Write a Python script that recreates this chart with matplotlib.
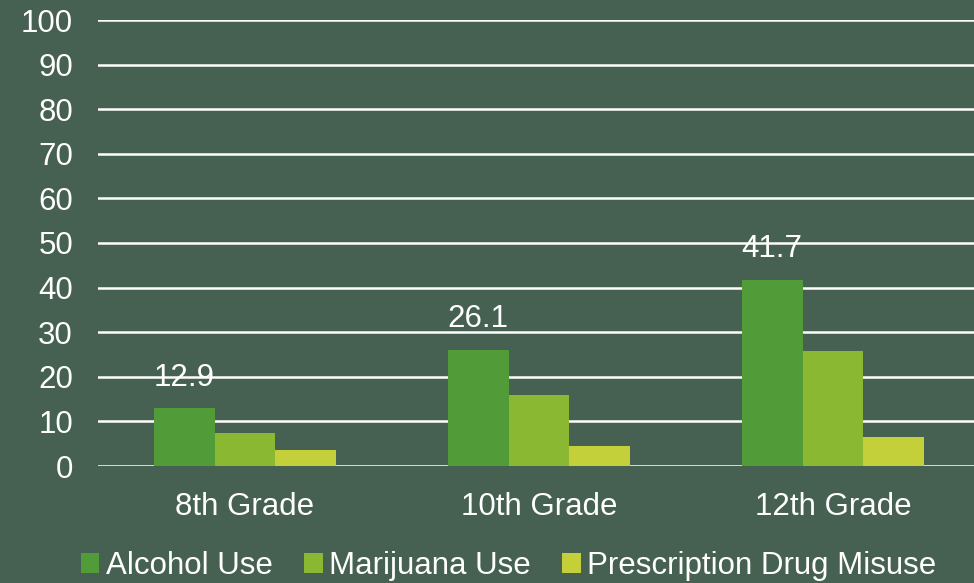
import matplotlib
matplotlib.use("Agg")
import matplotlib.pyplot as plt
import numpy as np

grades = ["8th Grade", "10th Grade", "12th Grade"]
alcohol = [12.9, 26.1, 41.7]
marijuana = [7.4, 15.9, 25.8]
prescription = [3.6, 4.5, 6.5]
series_names = ["Alcohol Use", "Marijuana Use", "Prescription Drug Misuse"]
colors = ["#519C39", "#8AB833", "#C3D03A"]
bg = "#466151"

plt.rcParams['font.family'] = ['Liberation Sans', 'DejaVu Sans']

fig = plt.figure(figsize=(9.74, 5.83), dpi=100, facecolor=bg)
ax = fig.add_axes([98 / 974, 1 - 466 / 583, 882 / 974, 446 / 583])
ax.set_facecolor(bg)

x = np.arange(len(grades))
w = 0.207
for i, (vals, name, c) in enumerate(zip([alcohol, marijuana, prescription], series_names, colors)):
    ax.bar(x + (i - 1) * w, vals, w, color=c, label=name, zorder=3)

# data labels only on alcohol bars
for xi, v in zip(x, alcohol):
    ax.annotate(f"{v}", (xi - w, v), xytext=(0, 22), textcoords="offset points",
                ha="center", va="center", color="white", fontsize=22.5)

ax.set_ylim(0, 100)
ax.set_xlim(-0.5, 2.5)
ax.set_yticks(range(0, 101, 10))
ax.yaxis.grid(True, color="white", lw=1.8, zorder=0)
ax.set_axisbelow(True)
ax.set_xticks(x)
ax.set_xticklabels(grades)

for s in ax.spines.values():
    s.set_visible(False)
ax.tick_params(axis="both", length=0, colors="white", labelsize=22.5)
ax.tick_params(axis="x", pad=19)
ax.tick_params(axis="y", pad=18)

leg = fig.legend(loc="lower center", bbox_to_anchor=(0.522, -0.045), ncol=3, frameon=False,
                 fontsize=22.5, labelcolor="white", handlelength=0.6, handleheight=0.6,
                 handletextpad=0.2, columnspacing=1.0)

fig.savefig("out.png", dpi=100, facecolor=bg)
